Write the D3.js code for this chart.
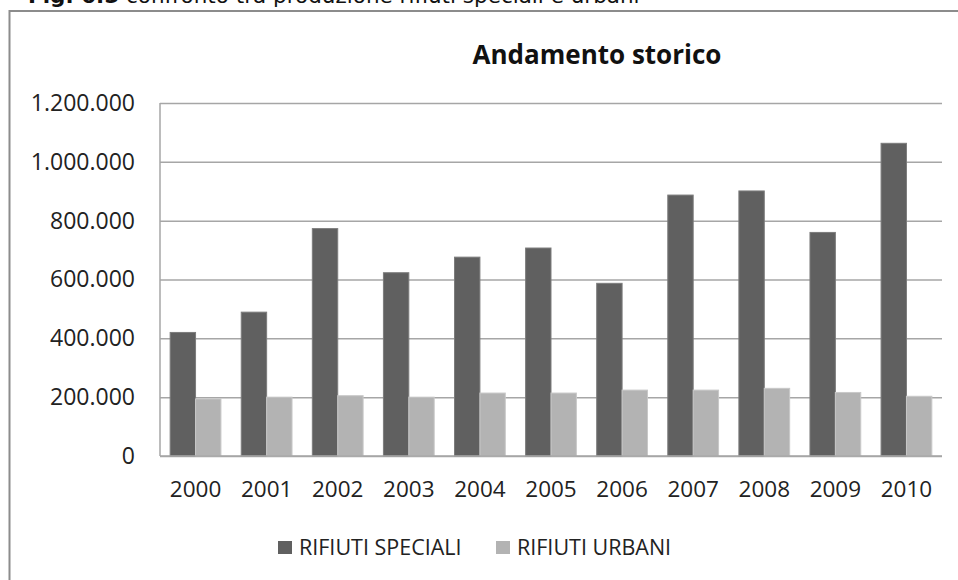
<!DOCTYPE html>
<html>
<head>
<meta charset="utf-8">
<script src="https://cdn.jsdelivr.net/npm/d3@7/dist/d3.min.js"></script>
<style>
  html, body { margin: 0; padding: 0; background: #fff; }
  svg { display: block; }
</style>
</head>
<body>
<svg id="chart" width="958" height="580"></svg>
<script>
// Annual production (tonnes)
const years = ["2000","2001","2002","2003","2004","2005","2006","2007","2008","2009","2010"];
const speciali = [420000, 489000, 773000, 623000, 676000, 707000, 587000, 887000, 901000, 760000, 1063000];
const urbani   = [194000, 200000, 205000, 200000, 214000, 214000, 224000, 224000, 230000, 216000, 203000];
const seriesNames = ["RIFIUTI SPECIALI", "RIFIUTI URBANI"];
const seriesColors = ["#606060", "#b3b3b3"];
const seriesStroke = ["#7c7c7c", "#c8c8c8"];
const yTicks = [0, 200000, 400000, 600000, 800000, 1000000, 1200000];

const svg = d3.select("#chart");
const font = "'Open Sans', 'Liberation Sans', sans-serif";

const it = d3.formatLocale({ decimal: ",", thousands: ".", grouping: [3], currency: ["€", ""] });
const fmt = it.format(",d");

// Caption above the frame (its upper part runs off the top edge)
const cap = svg.append("text")
  .attr("x", 28).attr("y", 3)
  .attr("font-family", "'DejaVu Sans', sans-serif")
  .attr("font-size", 21.5)
  .attr("fill", "#111");
cap.append("tspan").attr("font-weight", "bold").text("Fig. 6.5");
cap.append("tspan").text(" confronto tra produzione rifiuti speciali e urbani");

// Chart frame (extends past the right and bottom edges)
svg.append("rect")
  .attr("x", 9.5).attr("y", 11)
  .attr("width", 1000).attr("height", 620)
  .attr("fill", "#fff")
  .attr("stroke", "#8c8c8c").attr("stroke-width", 2);

const plot = { left: 160, right: 942, top: 103, bottom: 456 };

const x = d3.scaleBand().domain(years).range([plot.left, plot.right]).padding(0);
const gap = 0.8; // gap between groups relative to one bar
const barW = x.step() / (seriesNames.length + gap);
const xs = d3.scaleBand().domain(seriesNames)
  .range([barW * gap / 2, barW * gap / 2 + barW * seriesNames.length]).padding(0);

const y = d3.scaleLinear().domain([0, 1200000]).range([plot.bottom, plot.top]);

// Gridlines
svg.append("g")
  .attr("transform", `translate(${plot.left},0)`)
  .call(d3.axisLeft(y).tickValues(yTicks).tickSize(-(plot.right - plot.left)).tickFormat(""))
  .call(g => g.select(".domain").remove())
  .call(g => g.selectAll(".tick line").attr("stroke", "#a6a6a6").attr("stroke-width", 1.5));

// Left axis line
svg.append("line")
  .attr("x1", plot.left).attr("x2", plot.left)
  .attr("y1", plot.top).attr("y2", plot.bottom)
  .attr("stroke", "#a6a6a6").attr("stroke-width", 1.5);

// Y tick labels
svg.append("g")
  .attr("transform", `translate(${plot.left},0)`)
  .call(d3.axisLeft(y).tickValues(yTicks).tickSize(0).tickPadding(25).tickFormat(fmt))
  .call(g => g.select(".domain").remove())
  .call(g => g.selectAll("text")
    .attr("font-family", font).attr("font-size", 23).attr("fill", "#222"));

// Bars
const data = [speciali, urbani];
const groups = svg.append("g").selectAll("g")
  .data(years)
  .join("g")
  .attr("transform", d => `translate(${x(d)},0)`);

groups.selectAll("rect")
  .data((yr, i) => seriesNames.map((s, k) => ({ s, k, v: data[k][i] })))
  .join("rect")
  .attr("x", d => xs(d.s))
  .attr("width", xs.bandwidth())
  .attr("y", d => y(d.v))
  .attr("height", d => y(0) - y(d.v))
  .attr("fill", d => seriesColors[d.k])
  .attr("stroke", d => seriesStroke[d.k])
  .attr("stroke-width", 1);

// Baseline
svg.append("line")
  .attr("x1", plot.left).attr("x2", plot.right)
  .attr("y1", plot.bottom).attr("y2", plot.bottom)
  .attr("stroke", "#a6a6a6").attr("stroke-width", 1.5);

// X axis labels
svg.append("g")
  .attr("transform", `translate(0,${plot.bottom})`)
  .call(d3.axisBottom(x).tickSize(0).tickPadding(25))
  .call(g => g.select(".domain").remove())
  .call(g => g.selectAll("text")
    .attr("font-family", font).attr("font-size", 22.5).attr("fill", "#222"));

// Title
svg.append("text")
  .attr("x", 597).attr("y", 64)
  .attr("text-anchor", "middle")
  .attr("font-family", font).attr("font-weight", "bold")
  .attr("font-size", 26).attr("fill", "#111")
  .text("Andamento storico");

// Legend
const legendX = [278, 496];
const legend = svg.append("g").selectAll("g")
  .data(seriesNames)
  .join("g")
  .attr("transform", (d, i) => `translate(${legendX[i]},541)`);
legend.append("rect")
  .attr("width", 14).attr("height", 13)
  .attr("fill", (d, i) => seriesColors[i]);
legend.append("text")
  .attr("x", 21).attr("y", 14)
  .attr("font-family", font).attr("font-size", 21.5).attr("fill", "#222")
  .text(d => d);
</script>
</body>
</html>
